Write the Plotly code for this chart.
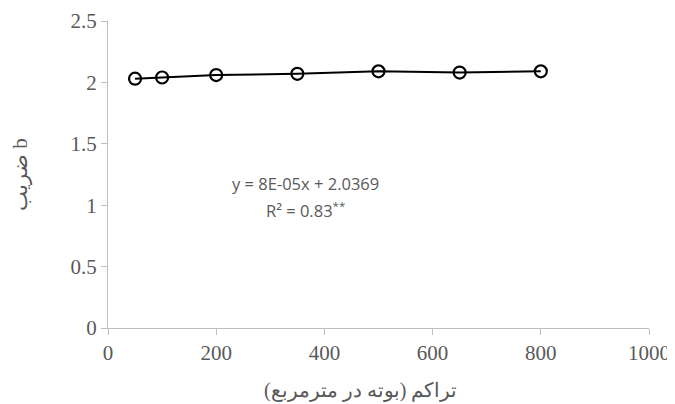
import plotly.graph_objects as go

density = [50, 100, 200, 350, 500, 650, 800]
b_coef = [2.03, 2.04, 2.06, 2.07, 2.09, 2.08, 2.09]
x_ticks = [0, 200, 400, 600, 800, 1000]
y_ticks = [0, 0.5, 1, 1.5, 2, 2.5]
y_tick_text = ["0", "0.5", "1", "1.5", "2", "2.5"]
x_title = "تراکم (بوته در مترمربع)"
y_title = "ضریب b"

serif = "Liberation Serif, DejaVu Serif"
fig = go.Figure()
fig.add_trace(go.Scatter(
    x=density, y=b_coef, mode="lines+markers",
    line=dict(color="black", width=2),
    marker=dict(symbol="circle-open", size=12, color="black", line=dict(width=2.2)),
    showlegend=False,
))

fig.add_annotation(x=365, y=1.175, text="y = 8E-05x + 2.0369", showarrow=False,
                   font=dict(family="Open Sans, Liberation Sans", size=16.5, color="#595959"))
fig.add_annotation(x=365, y=0.96, text="R² = 0.83<sup>**</sup>", showarrow=False,
                   font=dict(family="Open Sans, Liberation Sans", size=16.5, color="#595959"))
fig.add_annotation(xref="paper", yref="paper", x=0.466, y=-0.205, text=x_title,
                   showarrow=False, xanchor="center", yanchor="middle",
                   font=dict(family=serif, size=20, color="#595959"))

fig.update_layout(
    width=675, height=404,
    margin=dict(l=100, r=34, t=13, b=84),
    paper_bgcolor="white", plot_bgcolor="white",
    font=dict(family=serif, size=21, color="#595959"),
    xaxis=dict(range=[0, 1000], tickvals=x_ticks, showgrid=False, zeroline=False,
               showline=True, linecolor="#bfbfbf", linewidth=1, automargin=False,
               ticks="outside", ticklen=6, tickcolor="#bfbfbf", ticklabeloverflow="allow",
               tickfont=dict(family=serif, size=21, color="#595959")),
    yaxis=dict(range=[0, 2.5], tickvals=y_ticks, ticktext=y_tick_text, showgrid=False, zeroline=False,
               showline=True, linecolor="#bfbfbf", linewidth=1, automargin=False,
               ticks="outside", ticklen=6, tickcolor="#bfbfbf",
               tickfont=dict(family=serif, size=21, color="#595959"),
               title=dict(text=y_title, standoff=40,
                          font=dict(family=serif, size=21, color="#595959"))),
)

fig.write_html("out.html")
